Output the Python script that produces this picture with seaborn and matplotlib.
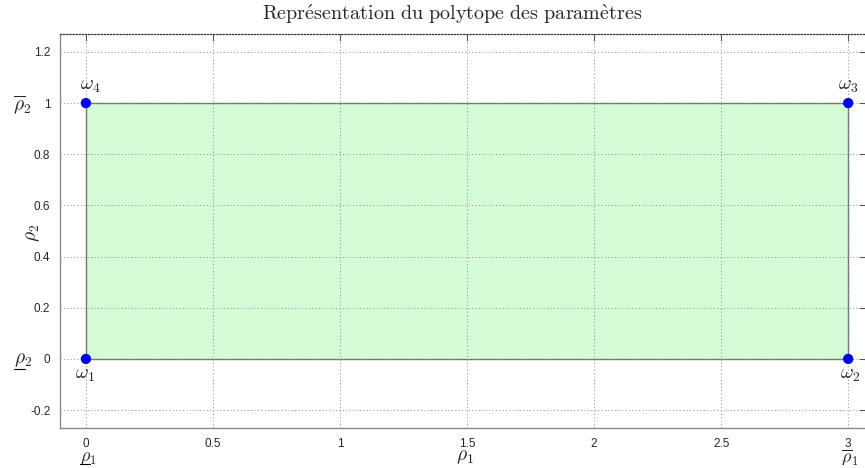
import numpy as np
import pandas as pd
import seaborn as sns
import matplotlib.pyplot as plt
from matplotlib.lines import Line2D

# sommets du polytope (rho1, rho2)
rho1 = [0, 3, 3, 0]
rho2 = [0, 0, 1, 1]
vertex_names = [r"$\omega_1$", r"$\omega_2$", r"$\omega_3$", r"$\omega_4$"]
x_ticks = [0, 0.5, 1, 1.5, 2, 2.5, 3]
x_ticklabels = ["0", "0.5", "1", "1.5", "2", "2.5", "3"]
y_ticks = [-0.2, 0, 0.2, 0.4, 0.6, 0.8, 1, 1.2]
y_ticklabels = ["-0.2", "0", "0.2", "0.4", "0.6", "0.8", "1", "1.2"]

df = pd.DataFrame({"rho1": rho1, "rho2": rho2, "name": vertex_names})

sns.set_style("white")
plt.rcParams["font.family"] = ["Liberation Sans", "DejaVu Sans"]
plt.rcParams["mathtext.fontset"] = "cm"

W, H = 865, 468
fig = plt.figure(figsize=(8.65, 4.68), dpi=100)
ax = fig.add_axes([60 / W, 40 / H, 806 / W, 394 / H])

# polytope
ax.fill(df["rho1"], df["rho2"], facecolor="#d6fcd6", edgecolor="#707070", lw=1.0, zorder=1)
sns.scatterplot(data=df, x="rho1", y="rho2", color="#0000ff", s=55, edgecolor="none",
                zorder=5, ax=ax, legend=False)

# noms des sommets
offsets = [(-1, -12), (1, -12), (0, 12), (3, 12)]
for (_, r), off in zip(df.iterrows(), offsets):
    ax.annotate(r["name"], xy=(r["rho1"], r["rho2"]), xytext=off, textcoords="offset points",
                ha="center", va="center", fontsize=14, zorder=6)

ax.set_xlim(-0.102, 3.07)
ax.set_ylim(-0.27, 1.27)
ax.set_xticks(x_ticks)
ax.set_xticklabels(x_ticklabels)
ax.set_yticks(y_ticks)
ax.set_yticklabels(y_ticklabels)
ax.set_xlabel("")
ax.set_ylabel("")
ax.tick_params(direction="in", length=5, width=0.8, color="#555555", labelsize=8.5,
               top=True, right=True, pad=7)
ax.grid(True, ls=(0, (1, 2.5)), lw=0.7, color="#8c8c8c")
ax.set_axisbelow(False)
for s in ["left", "bottom"]:
    ax.spines[s].set_color("#8a8a8a")
    ax.spines[s].set_linewidth(1.0)
ax.spines["top"].set_linestyle((0, (1, 1.5)))
ax.spines["top"].set_color("#333333")
ax.spines["top"].set_linewidth(0.9)
ax.spines["right"].set_visible(False)

# libellés des axes
fig.text(465 / W, 1 - 457 / H, r"$\rho_1$", ha="center", va="center", fontsize=14)
fig.text(33 / W, 1 - 233 / H, r"$\rho_2$", ha="center", va="center", fontsize=14, rotation=90)

# bornes des paramètres
fig.text(13 / W, 1 - 105 / H, r"$\overline{\rho}_2$", ha="left", va="center", fontsize=14)
fig.text(14 / W, 1 - 360 / H, r"$\rho_2$", ha="left", va="center", fontsize=14)
fig.text(80 / W, 1 - 458 / H, r"$\rho_1$", ha="left", va="center", fontsize=13)
fig.text(841 / W, 1 - 457 / H, r"$\overline{\rho}_1$", ha="left", va="center", fontsize=13)

# soulignements (mathtext n'a pas \underline)
for x0, x1, yp in [(14, 25, 369), (80, 90, 464)]:
    fig.add_artist(Line2D([x0 / W, x1 / W], [1 - yp / H, 1 - yp / H], color="black", lw=0.8))

fig.text(452 / W, 1 - 14 / H,
         r"$\mathrm{Repr\acute{e}sentation\ du\ polytope\ des\ param\grave{e}tres}$",
         ha="center", va="center", fontsize=14.5)

fig.savefig("out.png", dpi=100)
